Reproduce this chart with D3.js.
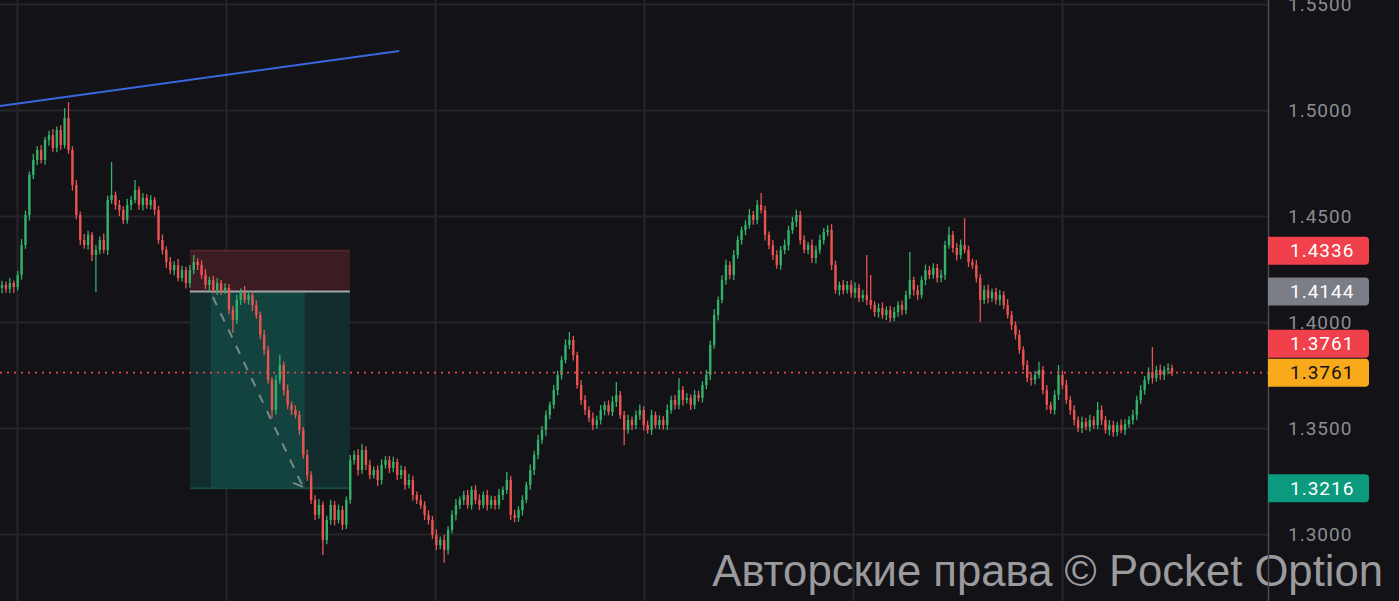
<!DOCTYPE html>
<html><head><meta charset="utf-8">
<script src="https://cdn.jsdelivr.net/npm/d3@7"></script>
<style>html,body{margin:0;padding:0;background:#121217;overflow:hidden}</style>
</head><body><svg id="c" width="1399" height="601"></svg>
<script>
// ---------------- DATA ----------------
const firstOpen = 1.4160;
const closes = [
1.4175,1.4156,1.4184,1.4165,1.4222,1.4363,1.4505,1.4694,1.4764,1.4811,
1.4764,1.4859,1.4882,1.4821,1.4906,1.4835,1.4962,1.4811,1.4646,1.4505,
1.4387,1.4363,1.4411,1.4316,1.4340,1.4387,1.4340,1.4576,1.4599,1.4552,
1.4528,1.4481,1.4552,1.4576,1.4623,1.4552,1.4585,1.4552,1.4576,1.4528,
1.4387,1.4340,1.4283,1.4245,1.4269,1.4208,1.4245,1.4184,1.4245,1.4283,
1.4269,1.4222,1.4175,1.4198,1.4151,1.4184,1.4151,1.4161,1.4057,1.4010,
1.4104,1.4142,1.4104,1.4127,1.4080,1.4033,1.3939,1.3868,1.3727,1.3585,
1.3727,1.3797,1.3679,1.3609,1.3585,1.3561,1.3491,1.3373,1.3278,1.3161,
1.3090,1.3137,1.2972,1.3066,1.3137,1.3066,1.3113,1.3043,1.3161,1.3349,
1.3373,1.3302,1.3396,1.3326,1.3278,1.3302,1.3255,1.3326,1.3349,1.3311,
1.3340,1.3278,1.3302,1.3231,1.3255,1.3184,1.3161,1.3137,1.3090,1.3066,
1.2996,1.2948,1.2972,1.2925,1.3019,1.3090,1.3137,1.3161,1.3184,1.3137,
1.3208,1.3161,1.3137,1.3184,1.3137,1.3161,1.3137,1.3184,1.3208,1.3255,
1.3090,1.3076,1.3113,1.3161,1.3231,1.3302,1.3373,1.3444,1.3491,1.3561,
1.3609,1.3679,1.3750,1.3821,1.3892,1.3915,1.3844,1.3703,1.3632,1.3585,
1.3547,1.3514,1.3538,1.3585,1.3609,1.3576,1.3623,1.3656,1.3561,1.3491,
1.3538,1.3514,1.3561,1.3585,1.3514,1.3491,1.3561,1.3514,1.3538,1.3514,
1.3585,1.3632,1.3609,1.3679,1.3632,1.3642,1.3609,1.3656,1.3642,1.3703,
1.3750,1.3892,1.4033,1.4104,1.4198,1.4269,1.4222,1.4316,1.4387,1.4434,
1.4458,1.4505,1.4481,1.4552,1.4528,1.4411,1.4363,1.4316,1.4269,1.4340,
1.4363,1.4434,1.4472,1.4505,1.4387,1.4340,1.4363,1.4302,1.4340,1.4387,
1.4425,1.4434,1.4269,1.4151,1.4175,1.4151,1.4175,1.4137,1.4161,1.4113,
1.4127,1.4104,1.4080,1.4047,1.4066,1.4033,1.4057,1.4019,1.4047,1.4080,
1.4057,1.4127,1.4198,1.4151,1.4127,1.4198,1.4245,1.4222,1.4255,1.4208,
1.4222,1.4363,1.4411,1.4349,1.4316,1.4363,1.4340,1.4283,1.4269,1.4208,
1.4104,1.4151,1.4113,1.4142,1.4104,1.4127,1.4080,1.4033,1.3986,1.3939,
1.3868,1.3797,1.3736,1.3727,1.3750,1.3774,1.3679,1.3609,1.3585,1.3656,
1.3750,1.3703,1.3632,1.3585,1.3538,1.3500,1.3528,1.3505,1.3538,1.3514,
1.3585,1.3538,1.3491,1.3514,1.3481,1.3514,1.3491,1.3519,1.3538,1.3561,
1.3632,1.3679,1.3727,1.3764,1.3736,1.3774,1.3750,1.3774,1.3783,1.3761
];
// wick lengths above max(open,close) / below min(open,close), in pips (0.0001)
const upperWickPips = [
20,16,24,12,18,28,20,16,30,18, 24,14,20,28,16,22,47,75,18,24,
16,28,20,14,24,18,30,20,156,16, 24,18,28,20,47,16,24,18,22,14,
20,26,16,24,18,28,20,16,24,33, 18,22,28,16,20,24,14,22,18,20,
24,16,28,20,18,22,16,24,20,14, 24,47,18,26,16,22,20,14,24,18,
22,28,16,20,24,18,26,20,16,24, 20,28,30,18,24,16,22,26,18,20,
24,16,22,18,28,20,16,24,18,22, 20,26,16,24,18,22,28,16,20,24,
18,22,26,16,24,20,18,28,16,38, 20,24,18,22,16,26,20,24,18,22,
16,24,20,18,26,38,20,16,24,22, 18,26,20,24,16,22,28,61,18,20,
24,16,22,26,18,20,24,16,22,18, 26,20,24,57,18,22,16,24,20,18,
24,20,28,16,22,26,18,24,20,16, 22,28,18,24,57,20,16,24,22,18,
26,20,24,24,18,22,16,26,20,24, 18,22,28,20,16,24,18,22,26,20,
24,189,118,18,22,26,16,20,24,18, 22,20,132,16,24,18,26,20,22,18,
24,20,38,18,22,26,127,20,16,24, 18,22,26,16,20,24,18,28,20,16,
24,18,22,26,20,38,18,24,16,22, 47,20,24,18,22,16,26,20,24,18,
38,22,18,24,20,16,26,22,18,24, 20,24,18,22,118,20,26,18,22,16
];
const lowerWickPips = [
24,18,20,28,16,22,18,26,20,24, 16,22,28,18,20,24,16,18,26,20,
24,18,22,28,175,20,16,24,18,22, 28,20,18,24,16,22,26,18,20,24,
18,22,28,20,24,16,18,26,22,20, 24,18,20,28,16,22,24,18,20,61,
20,24,16,22,28,18,20,24,18,38, 22,18,26,20,24,16,22,18,28,20,
24,18,71,20,22,26,16,24,20,18, 22,26,18,24,20,16,28,22,18,24,
20,24,18,22,16,26,20,18,24,22, 18,24,20,61,22,16,26,20,24,18,
22,20,24,16,26,18,22,20,24,18, 24,20,18,26,16,22,24,20,18,28,
20,18,24,22,16,20,26,18,22,24, 20,24,18,22,26,16,20,24,18,71,
18,24,20,22,26,18,24,16,20,22, 24,18,22,20,26,16,24,20,18,22,
20,24,18,26,16,22,20,24,18,22, 24,18,22,20,16,26,20,24,18,22,
20,26,18,24,22,16,20,24,26,18, 22,20,24,18,26,20,16,22,24,20,
18,24,20,22,26,18,24,20,16,22, 24,20,18,26,22,16,24,20,18,22,
20,24,18,22,26,20,16,24,18,22, 104,20,24,18,22,26,20,16,24,22,
18,24,20,26,22,16,20,24,18,22, 24,20,18,22,26,20,24,16,22,18,
20,24,18,26,22,20,16,24,18,22, 24,18,22,20,26,18,22,24,20,16
];
const priceTicks = [1.30, 1.35, 1.40, 1.45, 1.50, 1.55];
const timeGridIdx = [3.8, 57.2, 110.6, 164.0, 217.4, 270.8];   // candle-index positions of time grid
const trendLine = [[-0.5, 1.5019], [101.5, 1.5278]];
const posStart = 48.0, posEnd = 88.9, posInnerStart = 53.4, posInnerEnd = 77.4;
const stopPrice = 1.4336, entryPrice = 1.4144, targetPrice = 1.3216;
const projection = [[53.9, 1.4118], [76.7, 1.3231]];
const projectionTail = [[74.4, 1.3241], [76.9, 1.3222]];
const lastPrice = 1.3761;
const tags = [
  {label: "1.4336", price: 1.4336, kind: "stop"},
  {label: "1.4144", price: 1.4144, kind: "entry"},
  {label: "1.3761", price: 1.3761, kind: "close"},
  {label: "1.3761", price: 1.3761, kind: "last"},
  {label: "1.3216", price: 1.3216, kind: "target"}
];
const watermark = "Авторские права © Pocket Option";

// ---------------- CHART ----------------
const W = 1399, H = 601, axisX = 1268;
const N = closes.length;
const candles = closes.map((c, i) => {
  const o = i === 0 ? firstOpen : closes[i - 1];
  return {i, o, c, h: Math.max(o, c) + upperWickPips[i] / 1e4, l: Math.min(o, c) - lowerWickPips[i] / 1e4};
});
const x = d3.scaleLinear().domain([0, N - 1]).range([2, 1172]);
const y = d3.scaleLinear().domain([1.30, 1.50]).range([534, 110]);

const svg = d3.select("#c");
svg.append("rect").attr("width", W).attr("height", H).attr("fill", "#121217");

const grid = svg.append("g");
grid.selectAll(".hg").data(priceTicks).join("line")
  .attr("x1", 0).attr("x2", axisX).attr("y1", d => Math.round(y(d)) + 0.5).attr("y2", d => Math.round(y(d)) + 0.5)
  .attr("stroke", "#25252a").attr("stroke-width", 2);
grid.selectAll(".vg").data(timeGridIdx).join("line")
  .attr("x1", d => Math.round(x(d)) + 0.5).attr("x2", d => Math.round(x(d)) + 0.5).attr("y1", 0).attr("y2", H)
  .attr("stroke", "#25252a").attr("stroke-width", 2);

// position box
const pos = svg.append("g");
pos.append("rect").attr("x", x(posStart)).attr("width", x(posEnd) - x(posStart))
  .attr("y", y(stopPrice)).attr("height", y(entryPrice) - y(stopPrice)).attr("fill", "#3c1c23");
pos.append("line").attr("x1", x(posStart)).attr("x2", x(posEnd)).attr("y1", y(stopPrice)).attr("y2", y(stopPrice))
  .attr("stroke", "#52242c").attr("stroke-width", 2);
pos.append("rect").attr("x", x(posStart)).attr("width", x(posEnd) - x(posStart))
  .attr("y", y(entryPrice)).attr("height", y(targetPrice) - y(entryPrice)).attr("fill", "#112d2d");
pos.append("rect").attr("x", x(posInnerStart)).attr("width", x(posInnerEnd) - x(posInnerStart))
  .attr("y", y(entryPrice)).attr("height", y(targetPrice) - y(entryPrice)).attr("fill", "#13433e");
pos.append("line").attr("x1", x(posStart)).attr("x2", x(posEnd)).attr("y1", y(targetPrice)).attr("y2", y(targetPrice))
  .attr("stroke", "#174a44").attr("stroke-width", 2);
pos.append("line").attr("x1", x(posStart)).attr("x2", x(posEnd)).attr("y1", y(entryPrice)).attr("y2", y(entryPrice))
  .attr("stroke", "#a3a5ab").attr("stroke-width", 2);

// trend line
svg.append("line").attr("x1", x(trendLine[0][0])).attr("y1", y(trendLine[0][1]))
  .attr("x2", x(trendLine[1][0])).attr("y2", y(trendLine[1][1]))
  .attr("stroke", "#3a66e0").attr("stroke-width", 2);

// candles
const up = "#33b06a", dn = "#eb5351";
const cg = svg.append("g");
cg.selectAll(".w").data(candles).join("line")
  .attr("x1", d => x(d.i)).attr("x2", d => x(d.i)).attr("y1", d => y(d.h)).attr("y2", d => y(d.l))
  .attr("stroke", d => d.c >= d.o ? up : dn).attr("stroke-width", 1.3);
cg.selectAll(".b").data(candles).join("rect")
  .attr("x", d => x(d.i) - 1.2).attr("width", 2.4)
  .attr("y", d => y(Math.max(d.o, d.c))).attr("height", d => Math.max(1, Math.abs(y(d.o) - y(d.c))))
  .attr("fill", d => d.c >= d.o ? up : dn);

// projection dashed line
const line = d3.line().x(d => x(d[0])).y(d => y(d[1]));
svg.append("path").attr("d", line(projection)).attr("fill", "none")
  .attr("stroke", "#8d9399").attr("stroke-width", 2).attr("stroke-dasharray", "9,9").attr("opacity", 0.85);
svg.append("path").attr("d", line(projectionTail)).attr("fill", "none")
  .attr("stroke", "#8d9399").attr("stroke-width", 2).attr("opacity", 0.85);

// last price dotted line
svg.append("line").attr("x1", 0).attr("x2", axisX).attr("y1", y(lastPrice)).attr("y2", y(lastPrice))
  .attr("stroke", "#e5484d").attr("stroke-width", 1.6).attr("stroke-dasharray", "2,5");

// watermark
const wm = svg.append("text").attr("x", 1383).attr("y", 586).attr("text-anchor", "end")
  .attr("font-family", "'Liberation Sans', Arial, sans-serif").attr("font-size", 42)
  .attr("fill", "#b3b3b6").attr("opacity", 0.85).text(watermark);
const wl = wm.node().getComputedTextLength();
wm.attr("font-size", 42 * 671 / wl);

// right axis
svg.append("line").attr("x1", axisX + 0.5).attr("x2", axisX + 0.5).attr("y1", 0).attr("y2", H)
  .attr("stroke", "#4a4b52").attr("stroke-width", 1.5);
const ax = svg.append("g").attr("transform", `translate(${axisX},0)`)
  .call(d3.axisRight(y).tickValues(priceTicks).tickFormat(d3.format(".4f")).tickSize(0).tickPadding(20));
ax.select(".domain").remove();
ax.selectAll("text").attr("fill", "#8b8c92").attr("font-size", 19)
  .attr("font-family", "Roboto, 'Noto Sans', sans-serif").attr("letter-spacing", "1px");

// price tags
const tagColor = {stop: "#f0404c", entry: "#7c7e87", close: "#f0404c", last: "#f9aa1b", target: "#0c9a7f"};
const tagText = {stop: "#fff", entry: "#fff", close: "#fff", last: "#111", target: "#fff"};
const tagH = 28;
const placed = tags.map(t => ({...t, cy: y(t.price)}));
// collision: the "close" tag sits above the "last" tag when they overlap
const lastTag = placed.find(t => t.kind === "last"), closeTag = placed.find(t => t.kind === "close");
if (Math.abs(lastTag.cy - closeTag.cy) < tagH + 1) closeTag.cy = lastTag.cy - tagH - 1;
const tg = svg.append("g").selectAll("g").data(placed).join("g")
  .attr("transform", d => `translate(${axisX},${d.cy - tagH / 2})`);
tg.append("path").attr("d", `M0,0 H97 Q101,0 101,4 V${tagH - 4} Q101,${tagH} 97,${tagH} H0 Z`)
  .attr("fill", d => tagColor[d.kind]);
tg.append("text").attr("x", 22).attr("y", tagH / 2).attr("dy", "0.35em")
  .attr("font-size", 19).attr("font-family", "Roboto, 'Noto Sans', sans-serif").attr("letter-spacing", "1px")
  .attr("fill", d => tagText[d.kind]).text(d => d.label);
</script></body></html>
